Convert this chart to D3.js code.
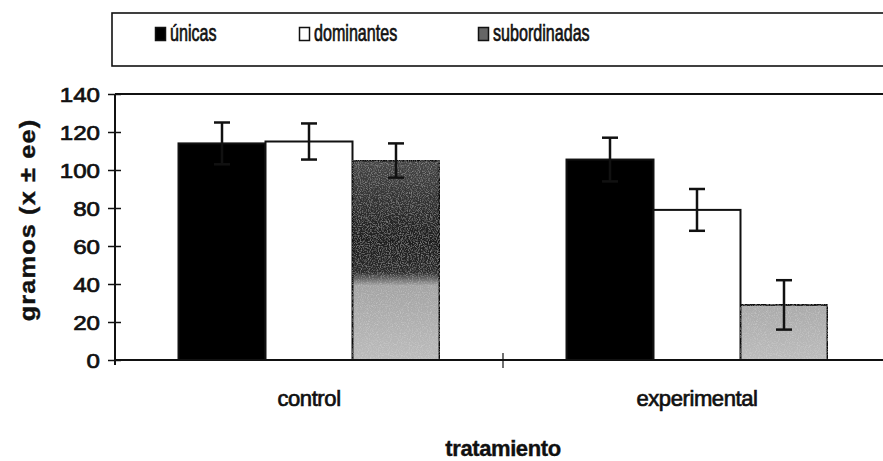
<!DOCTYPE html>
<html>
<head>
<meta charset="utf-8">
<script src="https://cdn.jsdelivr.net/npm/d3@7"></script>
<style>
  html, body { margin: 0; padding: 0; background: #fff; }
  svg { display: block; font-family: "Liberation Sans", Arial, sans-serif; }
</style>
</head>
<body>
<svg id="chart" width="883" height="461"></svg>
<script>
// Treatments on the x axis
const categories = ["control", "experimental"];
// Groups of animals (legend series)
const series = ["únicas", "dominantes", "subordinadas"];
// Mean weight in grams per treatment, one array per group
const unicas       = [114, 105.5];
const dominantes   = [115, 79];
const subordinadas = [105, 29];
// Standard error of each mean
const unicasSE       = [11, 11.5];
const dominantesSE   = [9.5, 11];
const subordinadasSE = [9, 13];
// Y axis ticks
const yTicks = [0, 20, 40, 60, 80, 100, 120, 140];

const values = [unicas, dominantes, subordinadas];
const errors = [unicasSE, dominantesSE, subordinadasSE];

const svg = d3.select("#chart");
const ink = "#111";

const plot = { left: 115, right: 891, top: 94, bottom: 360 };

const x0 = d3.scaleBand().domain(categories).range([plot.left, plot.right]).padding(0);
const x1 = d3.scaleBand().domain(series).range([0, x0.bandwidth()]).paddingInner(0).paddingOuter(0.73);
const y = d3.scaleLinear().domain([0, 140]).range([plot.bottom, plot.top]);

// Heavier strokes on all text, like a printed figure
const heavy = sel => sel.attr("fill", ink).attr("stroke", ink).attr("stroke-width", 0.7);

// Grey fill for the third group: darker higher up, lighter near the base
const defs = svg.append("defs");
const grad = defs.append("linearGradient")
  .attr("id", "greyFill")
  .attr("gradientUnits", "userSpaceOnUse")
  .attr("x1", 0).attr("x2", 0)
  .attr("y1", plot.top).attr("y2", plot.bottom);
[[0, "#555"], [0.25, "#474747"], [0.55, "#1e1e1e"], [0.67, "#2b2b2b"], [0.72, "#a4a4a4"], [1, "#bcbcbc"]]
  .forEach(([o, c]) => grad.append("stop").attr("offset", o).attr("stop-color", c));

// Speckle texture on the grey bars
const speckle = defs.append("filter").attr("id", "speckle")
  .attr("x", 0).attr("y", 0).attr("width", 1).attr("height", 1);
speckle.append("feTurbulence").attr("type", "fractalNoise").attr("baseFrequency", 0.9)
  .attr("numOctaves", 2).attr("seed", 3).attr("result", "noise");
speckle.append("feColorMatrix").attr("in", "noise").attr("type", "matrix")
  .attr("values", "0 0 0 0 1  0 0 0 0 1  0 0 0 0 1  1.2 0 0 0 -0.55").attr("result", "spots");
speckle.append("feComposite").attr("in", "spots").attr("in2", "SourceGraphic").attr("operator", "in").attr("result", "clip");
speckle.append("feComponentTransfer").attr("in", "clip").attr("result", "soft")
  .append("feFuncA").attr("type", "linear").attr("slope", 0.45);
const merge = speckle.append("feMerge");
merge.append("feMergeNode").attr("in", "SourceGraphic");
merge.append("feMergeNode").attr("in", "soft");

const fills = { "únicas": "#000", "dominantes": "#fff", "subordinadas": "url(#greyFill)" };

// Legend box
svg.append("rect")
  .attr("x", 112).attr("y", 13).attr("width", 790).attr("height", 53)
  .attr("fill", "none").attr("stroke", ink).attr("stroke-width", 1.6);

const legendX = [155, 299, 478];
const legend = svg.append("g").selectAll("g").data(series).join("g")
  .attr("transform", (d, i) => `translate(${legendX[i]},27)`);
legend.append("rect")
  .attr("x", 0.5).attr("y", 0.5).attr("width", 10).attr("height", 13)
  .attr("fill", d => d === "subordinadas" ? "#666" : fills[d])
  .attr("stroke", ink).attr("stroke-width", 1.5);
legend.append("text")
  .attr("transform", "translate(15,14) scale(0.7,1)")
  .attr("font-size", 23)
  .call(heavy)
  .text(d => d);

// Bars
const groups = svg.append("g").selectAll("g").data(categories).join("g")
  .attr("transform", d => `translate(${x0(d)},0)`);

groups.selectAll("rect").data((c, ci) => series.map((s, si) => ({ s, v: values[si][ci] })))
  .join("rect")
  .attr("x", d => x1(d.s))
  .attr("y", d => y(d.v))
  .attr("width", x1.bandwidth())
  .attr("height", d => y(0) - y(d.v))
  .attr("fill", d => fills[d.s])
  .attr("filter", d => d.s === "subordinadas" ? "url(#speckle)" : null)
  .attr("stroke", ink).attr("stroke-width", 2);

// Error bars (mean ± SE)
const eb = groups.selectAll("g.err").data((c, ci) => series.map((s, si) => ({ s, v: values[si][ci], e: errors[si][ci] })))
  .join("g").attr("class", "err")
  .attr("transform", d => `translate(${x1(d.s) + x1.bandwidth() / 2},0)`)
  .attr("stroke", ink).attr("stroke-width", 2.5);
eb.append("line").attr("y1", d => y(d.v - d.e)).attr("y2", d => y(d.v + d.e));
eb.append("line").attr("x1", -8).attr("x2", 8).attr("y1", d => y(d.v + d.e)).attr("y2", d => y(d.v + d.e));
eb.append("line").attr("x1", -8).attr("x2", 8).attr("y1", d => y(d.v - d.e)).attr("y2", d => y(d.v - d.e));

// Frame: top edge of the plot area
svg.append("line")
  .attr("x1", plot.left).attr("x2", plot.right)
  .attr("y1", plot.top).attr("y2", plot.top)
  .attr("stroke", ink).attr("stroke-width", 2);

// Y axis with crossing ticks
const yAxis = svg.append("g")
  .attr("transform", `translate(${plot.left},0)`)
  .call(d3.axisLeft(y).tickValues(yTicks).tickSize(7));
yAxis.select(".domain").attr("stroke", ink).attr("stroke-width", 2)
  .attr("d", `M0,${plot.top}V${plot.bottom + 5}`);
yAxis.selectAll(".tick line").attr("x1", -7).attr("x2", 6).attr("stroke", ink).attr("stroke-width", 1.5);
yAxis.selectAll(".tick text")
  .attr("font-family", "Liberation Sans, Arial, sans-serif")
  .attr("font-size", 21)
  .attr("x", null)
  .attr("transform", "translate(-15,0) scale(1.15,1)")
  .attr("dy", "0.36em")
  .call(heavy);

// X axis: baseline with a crossing tick between the groups
const xAxis = svg.append("g")
  .attr("transform", `translate(0,${plot.bottom})`)
  .call(d3.axisBottom(x0).tickSize(0).tickPadding(30));
xAxis.select(".domain").attr("stroke", ink).attr("stroke-width", 2)
  .attr("d", `M${plot.left},0H${plot.right}`);
xAxis.selectAll(".tick text")
  .attr("font-family", "Liberation Sans, Arial, sans-serif")
  .attr("font-size", 22).attr("letter-spacing", -0.4)
  .call(heavy);
xAxis.append("g").selectAll("line").data(categories.slice(1))
  .join("line")
  .attr("x1", d => x0(d)).attr("x2", d => x0(d))
  .attr("y1", -7).attr("y2", 8)
  .attr("stroke", ink).attr("stroke-width", 1.2);

// Axis titles
svg.append("text")
  .attr("transform", `translate(35,${(plot.top + plot.bottom) / 2 - 7}) rotate(-90) scale(1.15,1)`)
  .attr("text-anchor", "middle")
  .attr("font-size", 22).attr("font-weight", "bold").attr("letter-spacing", 1)
  .call(heavy).attr("stroke-width", 0.4)
  .text("gramos (x ± ee)");

svg.append("text")
  .attr("x", x0("experimental")).attr("y", 456)
  .attr("text-anchor", "middle")
  .attr("font-size", 22).attr("font-weight", "bold").attr("letter-spacing", -0.4)
  .call(heavy).attr("stroke-width", 0.4)
  .text("tratamiento");
</script>
</body>
</html>
